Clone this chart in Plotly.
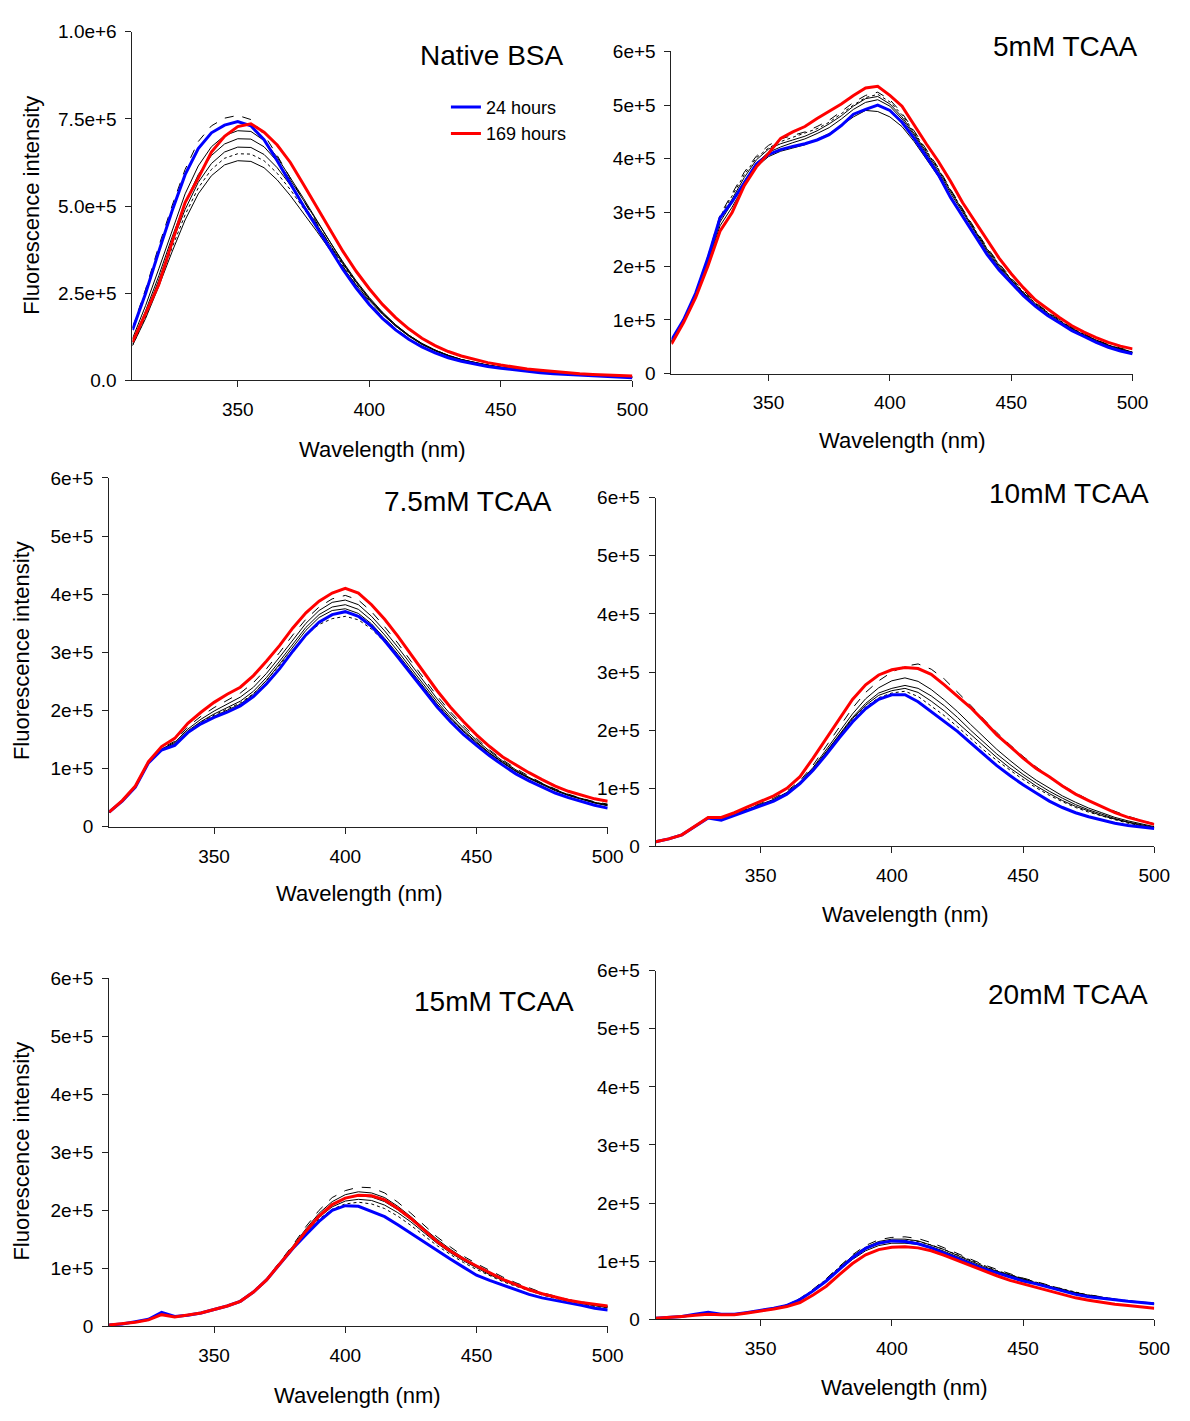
import plotly.graph_objects as go

W, H = 1190, 1421
FONT = "Liberation Sans, Arial, sans-serif"

# Emission wavelength grid (nm)
wavelength = [310, 315, 320, 325, 330, 335, 340, 345, 350, 355, 360, 365, 370,
              375, 380, 385, 390, 395, 400, 405, 410, 415, 420, 425, 430, 435,
              440, 445, 450, 455, 460, 465, 470, 475, 480, 485, 490, 495, 500]

# ---- values, in thousands of intensity units ----
# Native BSA
native_24h = [145, 250, 370, 485, 590, 665, 710, 732, 742, 730, 690, 630, 565, 500, 440, 378, 318, 265, 218, 178, 145, 118, 96, 79, 65, 55, 47, 40, 35, 30, 26, 22, 19, 17, 15, 13, 11, 9, 8]
native_169h = [110, 190, 275, 395, 510, 580, 655, 700, 728, 736, 712, 675, 625, 562, 497, 433, 370, 313, 263, 218, 180, 148, 121, 100, 83, 70, 60, 51, 44, 38, 33, 29, 25, 22, 19, 17, 15, 14, 13]
native_other = [
    [150, 262, 385, 500, 605, 685, 730, 752, 760, 748, 705, 645, 580, 515, 452, 388, 327, 272, 224, 183, 149, 121, 98, 81, 67, 56, 48, 41, 36, 31, 27, 23, 20, 18, 16, 14, 12, 10, 9],
    [120, 215, 320, 430, 535, 615, 670, 702, 716, 714, 688, 640, 582, 522, 460, 397, 337, 282, 233, 191, 156, 127, 103, 85, 70, 59, 50, 43, 37, 32, 28, 24, 21, 18, 16, 14, 12, 11, 10],
    [110, 200, 300, 410, 510, 590, 645, 678, 693, 692, 670, 628, 575, 518, 458, 398, 340, 286, 238, 196, 160, 130, 106, 87, 72, 60, 51, 44, 38, 33, 29, 25, 22, 19, 17, 15, 13, 11, 10],
    [105, 190, 288, 395, 490, 568, 622, 655, 669, 668, 648, 610, 560, 505, 448, 390, 334, 282, 235, 194, 159, 130, 106, 87, 72, 60, 51, 44, 38, 33, 29, 25, 22, 19, 17, 15, 13, 11, 10],
    [100, 182, 278, 380, 475, 552, 605, 637, 650, 649, 630, 594, 547, 494, 440, 384, 330, 279, 233, 193, 158, 129, 105, 87, 72, 60, 51, 44, 38, 33, 29, 25, 22, 19, 17, 15, 13, 11, 10],
    [100, 178, 270, 368, 460, 535, 587, 618, 630, 628, 610, 575, 530, 480, 428, 375, 323, 274, 229, 190, 156, 128, 104, 86, 71, 59, 50, 43, 37, 32, 28, 24, 21, 18, 16, 14, 12, 10, 9],
]

# 5mM TCAA
tcaa5_24h = [62, 100, 150, 215, 290, 320, 355, 390, 408, 417, 423, 428, 435, 445, 462, 483, 492, 500, 490, 468, 438, 405, 370, 328, 293, 258, 222, 193, 168, 145, 125, 108, 94, 80, 69, 58, 49, 42, 37]
tcaa5_169h = [55, 95, 142, 200, 265, 300, 350, 385, 410, 438, 450, 460, 475, 488, 502, 518, 532, 535, 518, 498, 462, 428, 395, 358, 318, 283, 248, 215, 186, 160, 137, 120, 104, 89, 77, 67, 58, 51, 46]
tcaa5_other = [
    [60, 100, 152, 218, 295, 335, 375, 405, 425, 437, 443, 450, 460, 472, 488, 505, 518, 524, 510, 485, 452, 418, 383, 343, 306, 270, 235, 205, 178, 154, 132, 115, 100, 86, 74, 63, 54, 47, 41],
    [60, 98, 148, 212, 288, 325, 365, 398, 418, 428, 435, 442, 452, 465, 480, 498, 512, 516, 502, 478, 447, 414, 379, 340, 303, 267, 232, 202, 175, 151, 130, 113, 98, 84, 72, 62, 53, 46, 40],
    [58, 97, 146, 208, 282, 318, 358, 392, 412, 422, 430, 437, 447, 458, 474, 492, 505, 510, 498, 474, 444, 410, 375, 336, 300, 264, 229, 199, 173, 149, 128, 111, 96, 83, 71, 61, 52, 45, 39],
    [58, 96, 144, 205, 275, 310, 350, 385, 404, 414, 420, 426, 436, 447, 462, 478, 490, 488, 478, 460, 432, 400, 367, 330, 295, 260, 226, 197, 171, 148, 127, 110, 95, 82, 70, 60, 51, 44, 38],
    [60, 99, 150, 214, 292, 330, 370, 402, 420, 432, 440, 447, 456, 468, 484, 500, 514, 520, 506, 482, 450, 416, 381, 342, 304, 268, 233, 203, 176, 152, 131, 114, 99, 85, 73, 62, 53, 46, 40],
]

# 7.5mM TCAA
tcaa75_24h = [25, 44, 68, 110, 132, 140, 162, 177, 188, 197, 208, 224, 246, 272, 302, 330, 352, 365, 370, 362, 345, 320, 292, 263, 234, 206, 181, 159, 140, 122, 106, 91, 79, 68, 58, 50, 43, 37, 32]
tcaa75_169h = [25, 45, 70, 112, 138, 152, 178, 197, 214, 228, 240, 260, 285, 312, 342, 368, 388, 402, 410, 402, 382, 357, 328, 297, 264, 234, 206, 181, 158, 138, 120, 106, 93, 81, 70, 61, 54, 48, 44]
tcaa75_other = [
    [25, 45, 69, 111, 135, 147, 172, 190, 205, 218, 230, 248, 272, 300, 330, 357, 378, 392, 398, 390, 370, 344, 316, 285, 254, 225, 198, 174, 152, 132, 115, 100, 87, 75, 65, 56, 49, 43, 39],
    [25, 45, 69, 111, 134, 145, 168, 185, 199, 211, 223, 240, 264, 292, 322, 350, 372, 386, 390, 382, 362, 337, 309, 279, 249, 220, 194, 170, 149, 130, 113, 98, 85, 74, 64, 55, 48, 42, 38],
    [25, 45, 68, 110, 133, 143, 165, 181, 194, 205, 216, 233, 257, 285, 315, 343, 365, 378, 382, 374, 355, 330, 302, 273, 243, 215, 189, 166, 146, 127, 111, 96, 84, 73, 63, 54, 47, 41, 37],
    [25, 45, 68, 110, 132, 141, 163, 178, 190, 200, 211, 228, 252, 280, 310, 338, 360, 372, 375, 367, 349, 324, 297, 268, 239, 211, 186, 164, 144, 126, 110, 95, 83, 72, 62, 54, 47, 41, 36],
    [25, 45, 68, 110, 132, 142, 164, 180, 192, 203, 213, 229, 252, 278, 305, 330, 348, 358, 362, 356, 340, 318, 292, 265, 237, 210, 186, 164, 144, 126, 110, 96, 84, 73, 63, 55, 48, 42, 37],
]

# 10mM TCAA
tcaa10_24h = [8, 13, 20, 35, 49, 45, 53, 62, 70, 78, 90, 108, 131, 158, 187, 214, 237, 253, 261, 261, 249, 232, 215, 198, 178, 158, 139, 122, 106, 92, 78, 67, 58, 51, 45, 40, 36, 33, 31]
tcaa10_169h = [8, 13, 20, 35, 50, 50, 58, 68, 78, 87, 100, 120, 152, 186, 220, 253, 278, 295, 304, 308, 306, 296, 278, 259, 239, 216, 192, 172, 152, 134, 120, 104, 90, 79, 68, 58, 50, 44, 38]
tcaa10_other = [
    [8, 13, 20, 35, 49, 48, 56, 65, 74, 83, 95, 113, 140, 172, 205, 238, 265, 285, 300, 310, 314, 305, 288, 266, 243, 219, 196, 175, 155, 137, 120, 105, 92, 80, 69, 60, 52, 45, 39],
    [8, 13, 20, 35, 49, 46, 54, 64, 72, 81, 93, 111, 136, 166, 198, 228, 254, 273, 285, 290, 284, 270, 252, 232, 210, 188, 167, 148, 130, 114, 100, 87, 76, 66, 58, 50, 44, 39, 34],
    [8, 13, 20, 35, 49, 46, 54, 63, 71, 80, 92, 110, 134, 163, 193, 222, 246, 264, 272, 277, 272, 259, 242, 222, 200, 179, 159, 141, 124, 109, 95, 83, 72, 63, 55, 48, 42, 37, 33],
    [8, 13, 20, 35, 49, 46, 54, 63, 71, 80, 92, 110, 134, 162, 192, 220, 243, 260, 268, 272, 265, 250, 233, 213, 192, 172, 153, 135, 119, 104, 91, 79, 69, 61, 53, 47, 41, 36, 32],
    [8, 13, 20, 35, 49, 45, 53, 62, 70, 79, 91, 109, 133, 161, 190, 218, 240, 256, 264, 267, 258, 242, 225, 206, 186, 166, 148, 131, 115, 101, 88, 77, 67, 59, 52, 46, 40, 35, 31],
]

# 15mM TCAA
tcaa15_24h = [2, 4, 8, 12, 24, 17, 19, 23, 29, 35, 43, 59, 80, 107, 134, 158, 181, 200, 208, 207, 198, 189, 175, 160, 146, 131, 116, 102, 88, 79, 71, 63, 55, 49, 45, 40, 36, 31, 28]
tcaa15_169h = [2, 4, 7, 11, 20, 16, 19, 23, 29, 35, 43, 59, 80, 107, 135, 164, 190, 210, 221, 226, 225, 218, 203, 186, 166, 146, 130, 116, 104, 92, 81, 72, 63, 56, 50, 45, 41, 38, 35]
tcaa15_other = [
    [2, 4, 7, 11, 21, 16, 19, 23, 29, 35, 44, 60, 82, 110, 140, 172, 200, 222, 234, 240, 239, 230, 214, 195, 174, 154, 137, 121, 108, 96, 85, 75, 66, 58, 52, 46, 42, 38, 35],
    [2, 4, 7, 11, 21, 16, 19, 23, 29, 35, 44, 60, 82, 109, 138, 168, 195, 215, 227, 232, 230, 222, 207, 189, 169, 150, 133, 118, 105, 93, 82, 73, 64, 57, 51, 45, 41, 37, 34],
    [2, 4, 7, 11, 21, 16, 19, 23, 29, 35, 44, 60, 81, 108, 136, 165, 191, 210, 221, 225, 223, 215, 201, 184, 165, 147, 130, 116, 103, 91, 81, 72, 63, 56, 50, 45, 40, 36, 33],
    [2, 4, 7, 11, 21, 16, 19, 23, 29, 35, 44, 60, 81, 108, 135, 163, 188, 206, 216, 219, 217, 209, 196, 180, 161, 143, 127, 113, 101, 89, 79, 70, 62, 55, 49, 44, 39, 35, 32],
    [2, 4, 7, 11, 21, 16, 19, 23, 29, 35, 44, 60, 81, 107, 134, 161, 185, 202, 211, 214, 211, 203, 190, 174, 156, 139, 124, 110, 98, 87, 77, 69, 61, 54, 48, 43, 38, 34, 31],
]

# 20mM TCAA
tcaa20_24h = [2, 3, 5, 9, 12, 9, 9, 12, 15, 19, 24, 34, 49, 66, 86, 106, 122, 131, 135, 134, 130, 123, 114, 105, 95, 87, 80, 73, 66, 61, 55, 49, 43, 39, 36, 34, 31, 29, 27]
tcaa20_169h = [2, 3, 5, 7, 9, 8, 8, 11, 14, 18, 22, 29, 42, 57, 77, 96, 111, 120, 124, 125, 123, 118, 110, 101, 93, 84, 75, 67, 61, 55, 48, 42, 37, 33, 29, 26, 24, 21, 19]
tcaa20_other = [
    [2, 3, 5, 9, 12, 9, 9, 12, 15, 19, 25, 36, 52, 70, 91, 111, 127, 137, 141, 142, 139, 132, 123, 113, 103, 94, 86, 78, 71, 65, 58, 52, 46, 42, 38, 35, 32, 30, 28],
    [2, 3, 5, 9, 12, 9, 9, 12, 15, 19, 25, 35, 50, 68, 89, 109, 124, 134, 138, 138, 135, 128, 120, 110, 100, 91, 83, 76, 69, 63, 57, 51, 46, 41, 37, 34, 31, 29, 27],
    [2, 3, 5, 9, 11, 9, 9, 12, 15, 19, 24, 34, 49, 67, 87, 106, 121, 130, 134, 134, 131, 125, 117, 108, 98, 89, 82, 75, 68, 62, 56, 50, 45, 41, 37, 34, 31, 29, 27],
    [2, 3, 5, 9, 11, 9, 9, 12, 15, 19, 24, 34, 48, 65, 85, 103, 118, 127, 131, 131, 129, 123, 115, 106, 97, 88, 81, 74, 67, 61, 55, 50, 45, 41, 37, 34, 31, 28, 26],
    [2, 3, 5, 9, 12, 9, 9, 12, 15, 19, 25, 35, 51, 69, 90, 108, 122, 131, 135, 136, 134, 128, 120, 111, 101, 92, 84, 77, 70, 64, 58, 52, 47, 42, 38, 35, 32, 30, 28],
]

panel_titles = ["Native BSA", "5mM TCAA", "7.5mM TCAA", "10mM TCAA", "15mM TCAA", "20mM TCAA"]
x_ticks = [350, 400, 450, 500]
y_ticks_native = [0, 250000, 500000, 750000, 1000000]
y_ticklabels_native = ["0.0", "2.5e+5", "5.0e+5", "7.5e+5", "1.0e+6"]
y_ticks_tcaa = [0, 100000, 200000, 300000, 400000, 500000, 600000]
y_ticklabels_tcaa = ["0", "1e+5", "2e+5", "3e+5", "4e+5", "5e+5", "6e+5"]

series = [
    (native_24h, native_169h, native_other),
    (tcaa5_24h, tcaa5_169h, tcaa5_other),
    (tcaa75_24h, tcaa75_169h, tcaa75_other),
    (tcaa10_24h, tcaa10_169h, tcaa10_other),
    (tcaa15_24h, tcaa15_169h, tcaa15_other),
    (tcaa20_24h, tcaa20_169h, tcaa20_other),
]

# pixel geometry of each panel
geom = [
    dict(xl=134.3, xr=641, yb=376, yt=22, ymax=1e6, title=(498, 46), xt=(388, 446), yt_pos=(32, 198)),
    dict(xl=680.6, xr=1148, yb=369, yt=42, ymax=6e5, title=(1080, 37), xt=(915, 437), yt_pos=None),
    dict(xl=110.6, xr=616, yb=829, yt=475, ymax=6e5, title=(474, 499), xt=(364, 897), yt_pos=(22, 650)),
    dict(xl=664.6, xr=1170, yb=849, yt=495, ymax=6e5, title=(1084, 491), xt=(918, 918), yt_pos=None),
    dict(xl=110.6, xr=616, yb=1336, yt=983, ymax=6e5, title=(501, 1006), xt=(362, 1406), yt_pos=(22, 1158)),
    dict(xl=664.6, xr=1170, yb=1329, yt=975, ymax=6e5, title=(1083, 999), xt=(917, 1398), yt_pos=None),
]

fig = go.Figure()
annotations = []
black_styles = ["dash", "solid", "solid", "solid", "dot", "solid"]

for i, ((blue, red, others), g) in enumerate(zip(series, geom)):
    n = i + 1
    xa = "x" if n == 1 else f"x{n}"
    ya = "y" if n == 1 else f"y{n}"
    for j, curve in enumerate(others):
        fig.add_trace(go.Scatter(
            x=wavelength, y=[v * 1000 for v in curve], mode="lines",
            line=dict(color="black", width=1, dash=black_styles[j % len(black_styles)]),
            xaxis=xa, yaxis=ya, showlegend=False, hoverinfo="skip"))
    fig.add_trace(go.Scatter(
        x=wavelength, y=[v * 1000 for v in blue], mode="lines", name="24 hours",
        line=dict(color="#0000FF", width=3), xaxis=xa, yaxis=ya, showlegend=(n == 1)))
    fig.add_trace(go.Scatter(
        x=wavelength, y=[v * 1000 for v in red], mode="lines", name="169 hours",
        line=dict(color="#FF0000", width=3), xaxis=xa, yaxis=ya, showlegend=(n == 1)))

    axis_common = dict(showline=True, linecolor="#222", linewidth=1, ticks="outside",
                       ticklen=6, tickcolor="#222", showgrid=False, zeroline=False,
                       tickfont=dict(family=FONT, size=19, color="black"))
    xkey = "xaxis" if n == 1 else f"xaxis{n}"
    ykey = "yaxis" if n == 1 else f"yaxis{n}"
    fig.update_layout(**{
        xkey: dict(domain=[g["xl"] / W, g["xr"] / W], range=[310, 500], anchor=ya,
                   tickvals=x_ticks, ticktext=[str(t) for t in x_ticks],
                   ticklabelstandoff=6, **axis_common),
        ykey: dict(domain=[1 - g["yb"] / H, 1 - g["yt"] / H], range=[0, g["ymax"]], anchor=xa,
                   tickvals=y_ticks_native if n == 1 else y_ticks_tcaa,
                   ticktext=y_ticklabels_native if n == 1 else y_ticklabels_tcaa,
                   ticklabelstandoff=5, **axis_common),
    })
    tx, ty = g["title"]
    annotations.append(dict(text=panel_titles[i], x=tx / W, y=1 - ty / H, xref="paper", yref="paper",
                            xanchor="center", yanchor="middle", showarrow=False,
                            font=dict(family=FONT, size=28, color="black")))
    ax_, ay_ = g["xt"]
    annotations.append(dict(text="Wavelength (nm)", x=ax_ / W, y=1 - ay_ / H, xref="paper", yref="paper",
                            xanchor="center", yanchor="middle", showarrow=False,
                            font=dict(family=FONT, size=22, color="black")))
    if g["yt_pos"] is not None:
        yx, yy = g["yt_pos"]
        annotations.append(dict(text="Fluorescence intensity", x=yx / W, y=1 - yy / H, xref="paper",
                                yref="paper", xanchor="center", yanchor="middle", showarrow=False,
                                textangle=-90, font=dict(family=FONT, size=22, color="black")))

fig.update_layout(
    width=W, height=H, margin=dict(l=0, r=0, t=0, b=0),
    paper_bgcolor="white", plot_bgcolor="white",
    font=dict(family=FONT, color="black"),
    annotations=annotations,
    legend=dict(x=452 / W, y=1 - 80 / H, xanchor="left", yanchor="top",
                font=dict(family=FONT, size=18, color="black"),
                bgcolor="rgba(0,0,0,0)", tracegroupgap=0),
)

fig.write_html("out.html")
